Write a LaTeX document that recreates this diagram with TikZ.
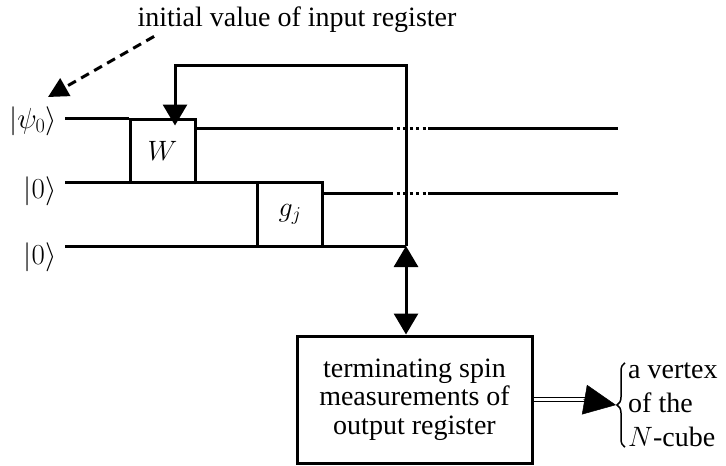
\RequirePackage{fix-cm}
\documentclass[tikz,border=0pt]{standalone}
\usepackage{amsmath, amssymb}
\usepackage{fontspec}
\setmainfont{Liberation Serif}
\usetikzlibrary{arrows.meta, decorations.pathreplacing, positioning, calc}

\begin{document}
\begin{tikzpicture}[
  x=1pt, y=-1pt, font=\fontsize{28}{30}\selectfont,
  > = {Triangle[length=21pt,width=24pt]},
  wire/.style = {line width=3pt},
  dotwire/.style = {line width=3pt, dash pattern=on 3pt off 3.5pt},
  gate/.style = {draw, line width=3pt, minimum width=65pt, minimum height=63pt, inner sep=0pt},
  ket/.style = {font=\fontsize{29}{31}\selectfont, inner sep=0pt},
  ]
  \useasboundingbox (0,0) rectangle (726,466);
  \node (@init) at (297,20) {initial value of input register};
  \node[ket] (@psi) at (33,121) {$|\psi_0\rangle$};
  \node[ket] (@in2) at (40,191) {$|0\rangle$};
  \node[ket] (@in3) at (40,257) {$|0\rangle$};
  \coordinate (a1) at (65,118);
  \coordinate (a2) at (65,182);
  \coordinate (a3) at (65,246);
  \coordinate (fb) at (406,246);
  \coordinate (top) at (406,65);
  \coordinate (aim) at (48,97);
  \node[gate] (@W) at (162.5,150.5) {$W$};
  \node[gate, minimum height=64pt] (@g) at (290,214.5) {$g_j$};
  \node[draw, line width=3pt, minimum width=235pt, minimum height=127pt, align=center,
    font=\fontsize{28}{28.5}\selectfont] (@meas) at (414.5,399.5)
    {terminating spin\\measurements of\\output register};
  \node[align=left, anchor=west, inner sep=0pt, font=\fontsize{28}{34}\selectfont] (@vtx) at (628,405)
    {a vertex\\of the\\$N$-cube};
  \draw[wire] (a1) -- (a1 -| @W.west);
  \draw[wire] (a2) -- (a2 -| @g.east);
  \draw[wire] (a3) -- (fb);
  \foreach \y/\n in {128/@W, 193/@g} {
    \draw[wire] (\n.east |- 0,\y) -- (390,\y);
    \draw[dotwire] (390,\y) -- (428,\y);
    \draw[wire] (428,\y) -- (618,\y);
  }
  \draw[wire, ->, shorten >=-8pt] (fb) -- (top) -| ([xshift=12.5pt]@W.north);
  \draw[wire, <->] (fb) -- (fb |- @meas.north);
  \draw[line width=3pt, dash pattern=on 9pt off 6pt, -{Triangle[length=20pt,width=20pt]}]
    ([xshift=20pt]@init.south west) -- (aim);
  \draw[line width=1.3pt, double, double distance=2.5pt] (@meas.east) -- ++(52,0);
  \draw[-{Triangle[length=32pt,width=30pt]}, line width=0.5pt] ([xshift=50pt]@meas.east) -- ([xshift=-12pt]@vtx.west);
  \draw[line width=1.5pt, decorate, decoration={brace, amplitude=8pt}]
    ([xshift=-3pt]@vtx.south west) -- ([xshift=-3pt]@vtx.north west);
\end{tikzpicture}
\end{document}
